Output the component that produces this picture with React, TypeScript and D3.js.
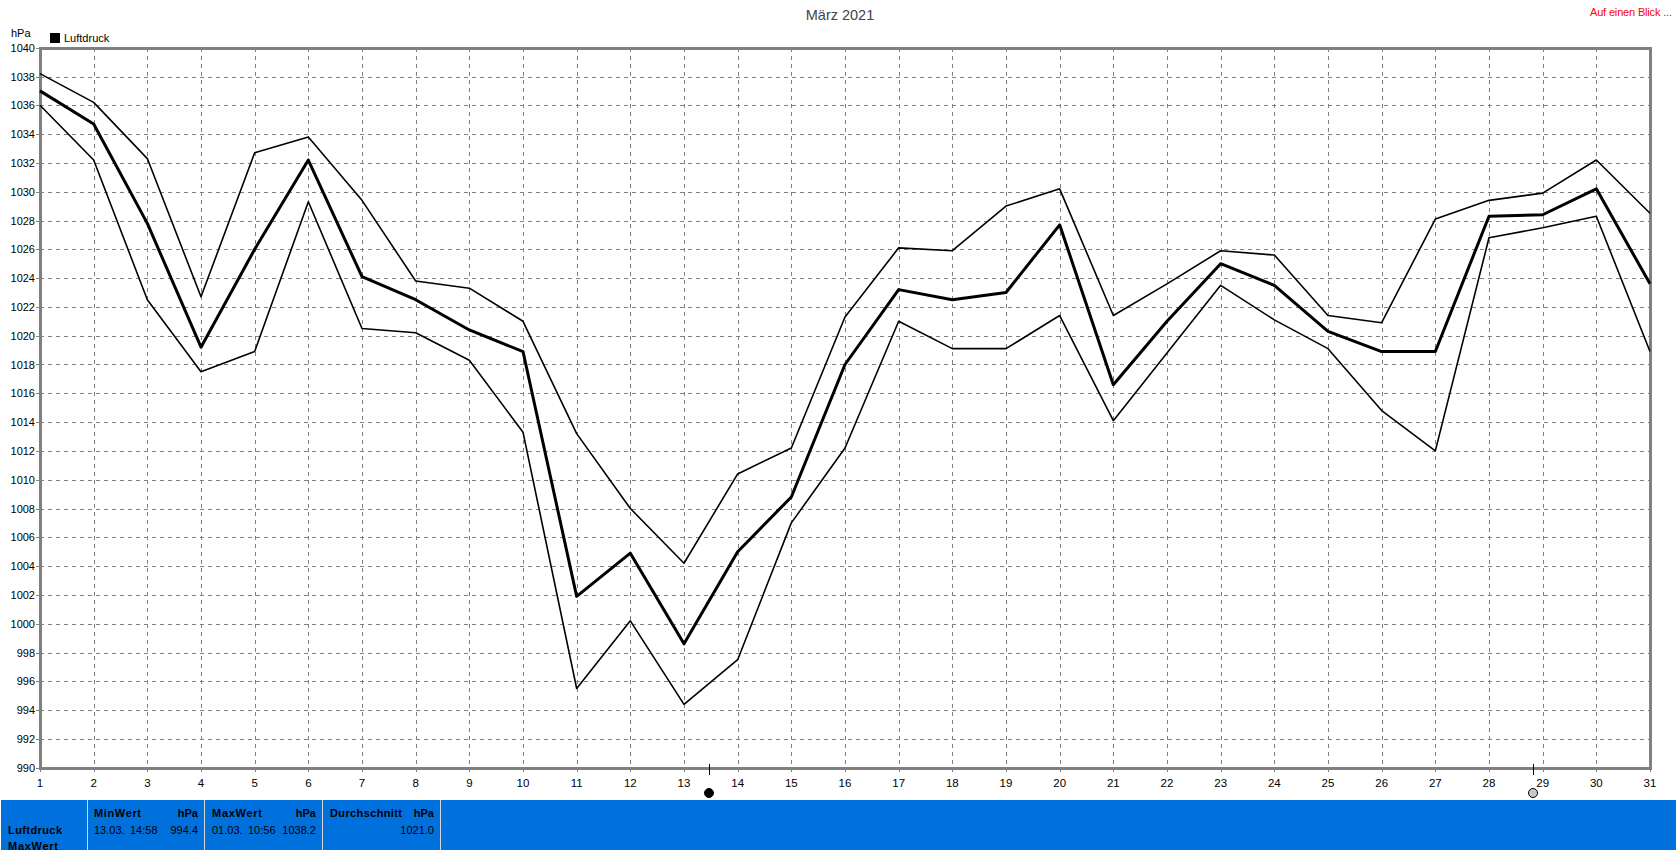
import React from "react";
import * as d3 from "d3";

const days = d3.range(1, 32);
const pressureTicks = d3.range(990, 1042, 2);
const maxValues = [1038.2,1036.2,1032.3,1022.7,1032.7,1033.8,1029.4,1023.8,1023.3,1021.0,1013.2,1008.0,1004.2,1010.4,1012.2,1021.3,1026.1,1025.9,1029.0,1030.2,1021.4,1023.6,1025.9,1025.6,1021.4,1020.9,1028.1,1029.4,1029.9,1032.2,1028.5];
const meanValues = [1037.0,1034.7,1027.8,1019.2,1026.0,1032.2,1024.1,1022.5,1020.4,1018.9,1001.9,1004.9,998.6,1005.0,1008.8,1018.0,1023.2,1022.5,1023.0,1027.7,1016.6,1021.0,1025.0,1023.5,1020.3,1018.9,1018.9,1028.3,1028.4,1030.2,1023.6];
const minValues = [1036.0,1032.2,1022.5,1017.5,1018.9,1029.3,1020.5,1020.2,1018.3,1013.3,995.5,1000.2,994.4,997.5,1007.0,1012.2,1021.0,1019.1,1019.1,1021.4,1014.1,1018.8,1023.5,1021.1,1019.1,1014.8,1012.0,1026.8,1027.5,1028.3,1018.9];
const moons = [{ day: 13.47, fill: "#000" }, { day: 28.82, fill: "#c8c8c8" }];

const FONT = "'Liberation Sans', Arial, sans-serif";
const GRAY = "#808080";
const BLUE = "#0070DD";

export default function App() {
  const x = d3.scaleLinear().domain([1, 31]).range([40, 1650]);
  const y = d3.scaleLinear().domain([990, 1040]).range([767.7, 47.7]);
  const line = d3.line<number>().x((_, i) => x(days[i])).y((v) => y(v));
  const dash = "4 4";
  return (
    <svg width={1677} height={850} style={{ position: "fixed", left: 0, top: 0, background: "#fff" }} fontFamily={FONT} fontSize={11}>
      <text x={840} y={20} textAnchor="middle" fontSize={14.5} fill="#444">März 2021</text>
      <text x={1590} y={16} fontSize={11} fill="#ff0000" textLength={82}>Auf einen Blick ...</text>
      <text x={11} y={37} fill="#000">hPa</text>
      <rect x={50} y={33} width={10} height={10} fill="#000" />
      <text x={64} y={42} fill="#000">Luftdruck</text>

      {pressureTicks.slice(1, -1).map((t) => (
        <line key={t} x1={40} x2={1650} y1={Math.round(y(t))} y2={Math.round(y(t))} stroke={GRAY} strokeDasharray={dash} shapeRendering="crispEdges" />
      ))}
      {days.slice(1, -1).map((d) => (
        <line key={d} x1={Math.round(x(d))} x2={Math.round(x(d))} y1={48} y2={768} stroke={GRAY} strokeDasharray={dash} shapeRendering="crispEdges" />
      ))}
      <rect x={40} y={48} width={1610} height={720} fill="none" stroke={GRAY} strokeWidth={3} shapeRendering="crispEdges" />
      {pressureTicks.map((t) => (
        <g key={t}>
          <line x1={36} x2={40} y1={Math.round(y(t))} y2={Math.round(y(t))} stroke={GRAY} shapeRendering="crispEdges" />
          <text x={35} y={y(t) + 4} textAnchor="end" fill="#000">{t}</text>
        </g>
      ))}
      {days.map((d) => (
        <g key={d}>
          <line x1={Math.round(x(d))} x2={Math.round(x(d))} y1={768} y2={772} stroke={GRAY} shapeRendering="crispEdges" />
          <text x={x(d)} y={787} textAnchor="middle" fill="#000" fontSize={11.5}>{d}</text>
        </g>
      ))}

      <path d={line(maxValues)!} fill="none" stroke="#000" strokeWidth={1.6} strokeLinejoin="round" />
      <path d={line(minValues)!} fill="none" stroke="#000" strokeWidth={1.6} strokeLinejoin="round" />
      <path d={line(meanValues)!} fill="none" stroke="#000" strokeWidth={3} strokeLinejoin="round" />

      {moons.map((m) => (
        <g key={m.day}>
          <line x1={Math.round(x(m.day))} x2={Math.round(x(m.day))} y1={764} y2={775} stroke="#000" shapeRendering="crispEdges" />
          <circle cx={Math.round(x(m.day))} cy={793} r={4.5} fill={m.fill} stroke="#000" strokeWidth={1} />
        </g>
      ))}

      <rect x={1} y={800} width={1675} height={50} fill={BLUE} />
      {[87.5, 204.5, 322.5, 440.5].map((sx) => (
        <line key={sx} x1={sx} x2={sx} y1={800} y2={850} stroke="#d8d8d8" strokeWidth={1.5} shapeRendering="crispEdges" />
      ))}
      <g fill="#000">
        <text x={8} y={834} fontWeight="bold" textLength={54}>Luftdruck</text>
        <text x={8} y={850} fontWeight="bold" textLength={50}>MaxWert</text>
        <text x={94} y={817} fontWeight="bold" textLength={47}>MinWert</text>
        <text x={198} y={817} fontWeight="bold" textAnchor="end">hPa</text>
        <text x={94} y={834}>13.03.</text>
        <text x={130} y={834}>14:58</text>
        <text x={198} y={834} textAnchor="end">994.4</text>
        <text x={212} y={817} fontWeight="bold" textLength={50}>MaxWert</text>
        <text x={316} y={817} fontWeight="bold" textAnchor="end">hPa</text>
        <text x={212} y={834}>01.03.</text>
        <text x={248} y={834}>10:56</text>
        <text x={316} y={834} textAnchor="end">1038.2</text>
        <text x={330} y={817} fontWeight="bold" textLength={72}>Durchschnitt</text>
        <text x={434} y={817} fontWeight="bold" textAnchor="end">hPa</text>
        <text x={434} y={834} textAnchor="end">1021.0</text>
      </g>
    </svg>
  );
}
